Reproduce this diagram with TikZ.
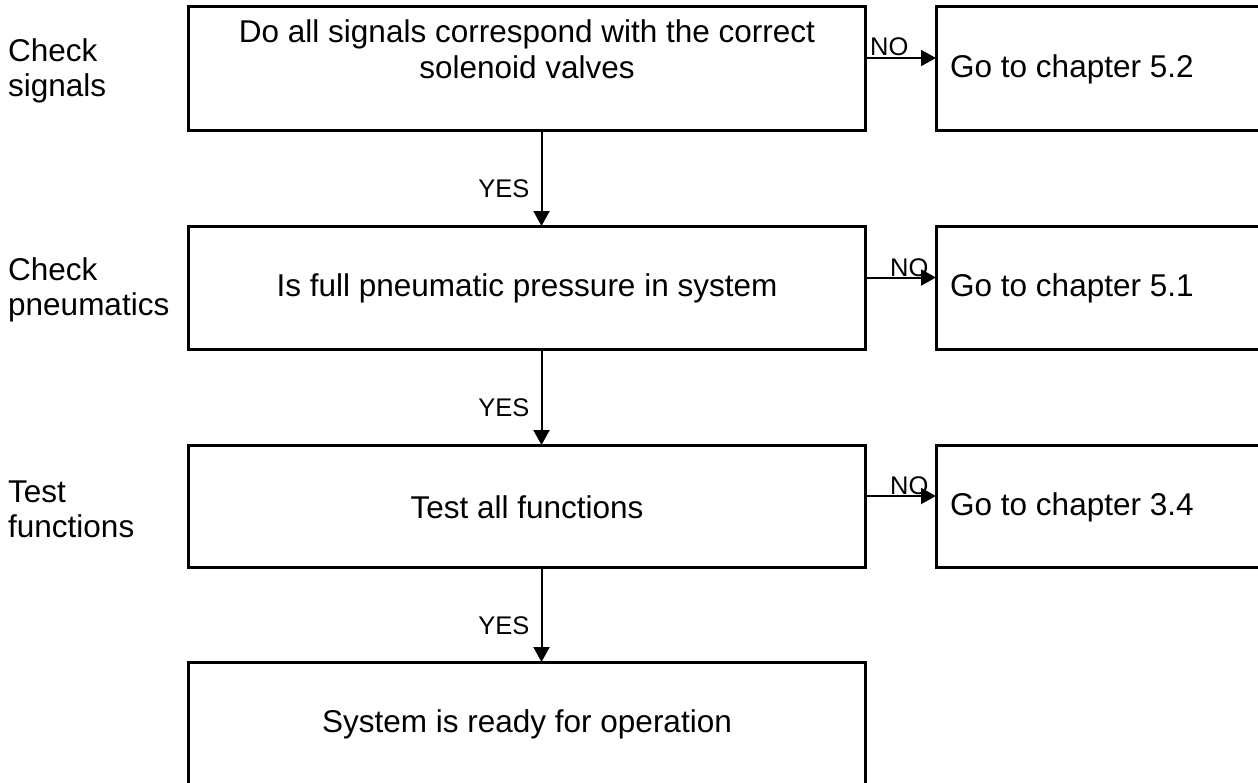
\documentclass[tikz,border=0pt]{standalone}
\usepackage{fontspec}
\setmainfont{Liberation Sans}
\usetikzlibrary{arrows.meta}
\begin{document}
\begin{tikzpicture}[x=1pt,y=-1pt,
  box/.style={draw=black,line width=3pt,inner sep=0pt,outer sep=0pt,anchor=north west},
  main/.style={font=\fontsize{31.5}{36}\selectfont,align=center,inner sep=0pt},
  side/.style={font=\fontsize{31.5}{35}\selectfont,align=left,inner sep=0pt,anchor=west},
  lab/.style={font=\fontsize{25.5}{30}\selectfont,inner sep=0pt},
  arr/.style={line width=2pt,-{Triangle[length=15pt,width=16pt]}}]
\useasboundingbox (0,0) rectangle (1258,782);
\clip (0,0) rectangle (1258,782);
% main boxes
\node[box,minimum width=677pt,minimum height=124pt] (b1) at (188,6) {};
\node[box,minimum width=677pt,minimum height=123pt] (b2) at (188,226) {};
\node[box,minimum width=677pt,minimum height=122pt] (b3) at (188,445) {};
\node[box,minimum width=677pt,minimum height=160pt] (b4) at (188,662) {};
% right boxes
\node[box,minimum width=360pt,minimum height=124pt] (r1) at (936,6) {};
\node[box,minimum width=360pt,minimum height=123pt] (r2) at (936,226) {};
\node[box,minimum width=360pt,minimum height=122pt] (r3) at (936,445) {};
% texts
\node[main] (t1) at (527,49) {Do all signals correspond with the correct\\solenoid valves};
\node[main] (t2) at (527,288) {Is full pneumatic pressure in system};
\node[main] (t3) at (527,507) {Test all functions};
\node[main] (t4) at (527,724) {System is ready for operation};
\node[side] (g1) at (950,69) {Go to chapter 5.2};
\node[side] (g2) at (950,288) {Go to chapter 5.1};
\node[side] (g3) at (950,507) {Go to chapter 3.4};
\node[side] (l1) at (8,71) {Check\\signals};
\node[side] (l2) at (8,290) {Check\\pneumatics};
\node[side] (l3) at (8,509) {Test\\functions};
% arrows
\draw[arr] ([xshift=15pt]b1.south) -- ([xshift=15pt]b2.north) node[lab,midway,left=11pt,yshift=-11pt] (y1) {YES};
\draw[arr] ([xshift=15pt]b2.south) -- ([xshift=15pt]b3.north) node[lab,midway,left=11pt,yshift=-11pt] (y2) {YES};
\draw[arr] ([xshift=15pt]b3.south) -- ([xshift=15pt]b4.north) node[lab,midway,left=11pt,yshift=-11pt] (y3) {YES};
\draw[arr] ([yshift=10pt]b1.east) -- ([yshift=10pt]r1.west);
\draw[arr] ([yshift=10pt]b2.east) -- ([yshift=10pt]r2.west);
\draw[arr] ([yshift=10pt]b3.east) -- ([yshift=10pt]r3.west);
\node[lab,anchor=west] (n1) at (870,47) {NO};
\node[lab,anchor=west] (n2) at (890,268) {NO};
\node[lab,anchor=west] (n3) at (890,486) {NO};
\end{tikzpicture}
\end{document}
